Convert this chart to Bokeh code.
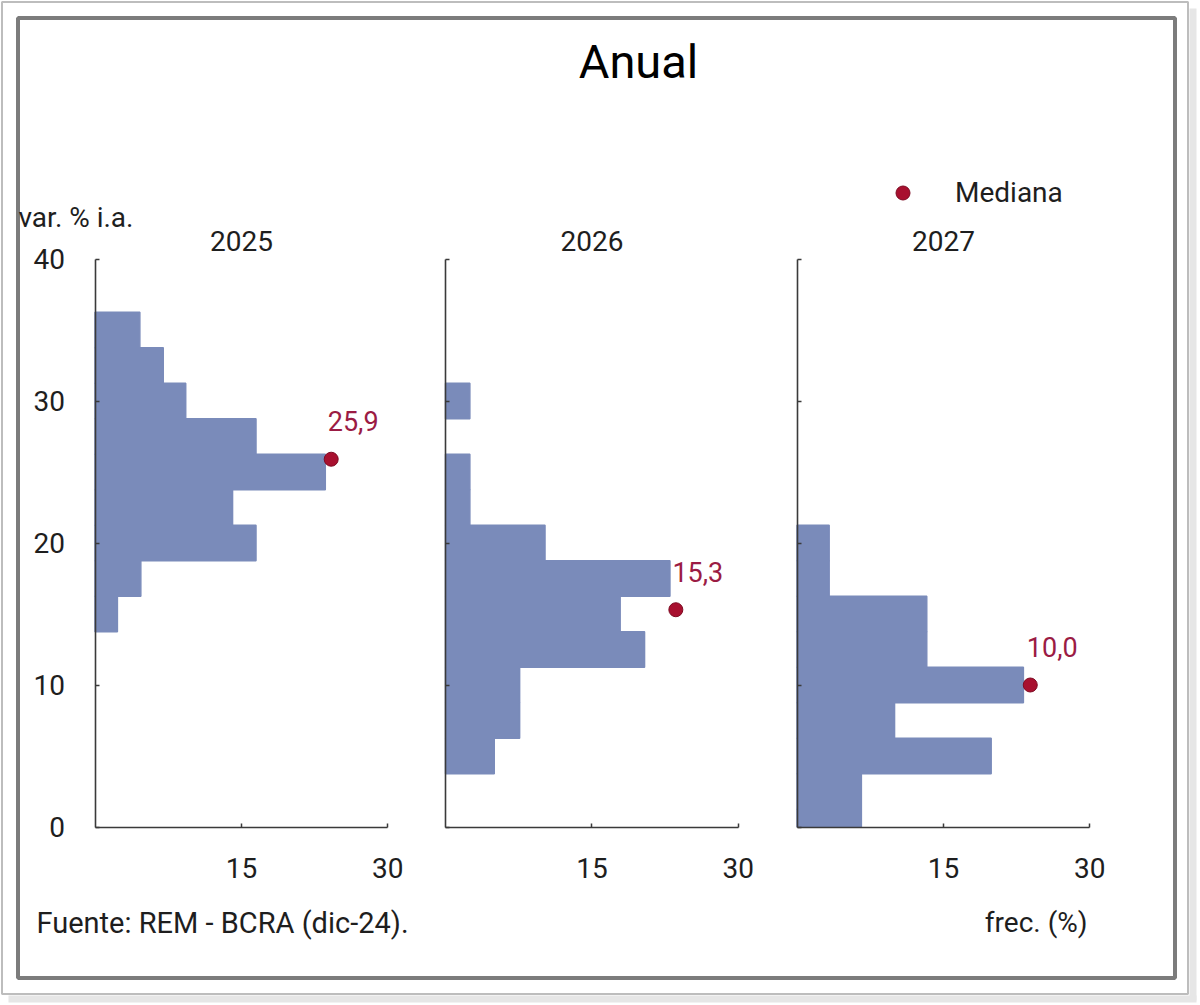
import numpy as np
from bokeh.plotting import figure
from bokeh.models import (Range1d, LinearAxis, FixedTicker, Label, Legend,
                          LegendItem, ColumnDataSource)
from bokeh.core.properties import value
from bokeh.embed import file_html
from bokeh.resources import INLINE

# ---------------- data ----------------
years = ["2025", "2026", "2027"]
bins_2025 = [15.0, 17.5, 20.0, 22.5, 25.0, 27.5, 30.0, 32.5, 35.0]
freq_2025 = [2.3, 4.7, 16.5, 14.1, 23.6, 16.5, 9.3, 7.0, 4.6]
bins_2026 = [5.0, 7.5, 10.0, 12.5, 15.0, 17.5, 20.0, 22.5, 25.0, 27.5, 30.0]
freq_2026 = [5.0, 7.6, 7.6, 20.4, 17.9, 23.0, 10.2, 2.5, 2.5, 0.0, 2.5]
bins_2027 = [0.0, 2.5, 5.0, 7.5, 10.0, 12.5, 15.0, 17.5, 20.0]
freq_2027 = [6.6, 6.6, 19.9, 10.0, 23.2, 13.3, 13.3, 3.3, 3.3]
median_value = [25.9, 15.3, 10.0]
median_label = ["25,9", "15,3", "10,0"]
median_pos_x = [24.2, 23.6, 23.9]
bin_width = 2.5
y_ticks = [0, 10, 20, 30, 40]
x_ticks = [15, 30]
y_lim = (0, 40)
x_lim = (0, 30)

bins_all = [bins_2025, bins_2026, bins_2027]
freq_all = [freq_2025, freq_2026, freq_2027]

# ---------------- layout / style ----------------
W, H = 1200, 1005
panel_x0 = [94.5, 445.0, 796.5]      # pixel where frequency 0 sits
px_per_x = 9.76
y0_px = 826.5                        # pixel where 0 % sits
px_per_y = 14.2
FONT = "Roboto"
FS = "28px"
BAR = "#7a8bba"
MED = "#a8102f"
MED_TXT = "#9b1b44"
TXT = "#1e1e1e"

p = figure(width=W, height=H, x_range=Range1d(0, W), y_range=Range1d(H, 0),
           output_backend="svg", toolbar_location=None, title=None,
           x_axis_location=None, y_axis_location=None, min_border=0,
           outline_line_color=None, background_fill_color="white",
           border_fill_color="white")
p.xgrid.visible = False
p.ygrid.visible = False

p.extra_y_ranges = {"val": Range1d(-(H - y0_px) / px_per_y, y0_px / px_per_y)}
xr_names = []
for k, x0 in enumerate(panel_x0):
    name = f"p{k}"
    p.extra_x_ranges[name] = Range1d(-x0 / px_per_x, (W - x0) / px_per_x)
    xr_names.append(name)

# ---------------- frame decoration ----------------
p.quad(left=[1189], right=[1196], top=[8], bottom=[1000], fill_color="#e6e6e6", line_color=None)
p.quad(left=[8], right=[1196], top=[995], bottom=[1002], fill_color="#e6e6e6", line_color=None)
p.quad(left=[1.5], right=[1187.5], top=[1.5], bottom=[993.5], fill_color="white",
       line_color="#bdbdbd", line_width=2)
p.quad(left=[17.5], right=[1174.5], top=[17.5], bottom=[977.5], fill_color="white",
       line_color="#7c7c7c", line_width=4)

# ---------------- panels ----------------
med_renderer = None
for k in range(3):
    xr = xr_names[k]
    c = np.array(bins_all[k])
    f = np.array(freq_all[k])
    keep = f > 0
    src = ColumnDataSource(dict(
        right=f[keep],
        bottom=np.clip(c[keep] - bin_width / 2, y_lim[0], y_lim[1]),
        top=np.clip(c[keep] + bin_width / 2, y_lim[0], y_lim[1]),
    ))
    p.quad(left=0, right="right", bottom="bottom", top="top", source=src,
           x_range_name=xr, y_range_name="val",
           fill_color=BAR, line_color=BAR, line_width=1.4)

    msrc = ColumnDataSource(dict(x=[median_pos_x[k]], y=[median_value[k]],
                                 t=[median_label[k]]))
    r = p.scatter(x="x", y="y", source=msrc, x_range_name=xr, y_range_name="val",
                  size=14, fill_color=MED, line_color="#7e0a22", line_width=1)
    if med_renderer is None:
        med_renderer = r
    p.text(x="x", y="y", text="t", source=msrc, x_range_name=xr, y_range_name="val",
           x_offset=22, y_offset=-38, text_align="center", text_baseline="middle",
           text_font=value(FONT), text_font_size="27px", text_color=MED_TXT)

    xa = LinearAxis(x_range_name=xr, y_range_name="val", fixed_location=0,
                    bounds=x_lim, ticker=FixedTicker(ticks=x_ticks))
    ya = LinearAxis(x_range_name=xr, y_range_name="val", fixed_location=0,
                    bounds=y_lim, ticker=FixedTicker(ticks=y_ticks))
    for ax in (xa, ya):
        ax.axis_line_color = "#3a3a3a"
        ax.axis_line_width = 1.6
        ax.major_tick_in = 4
        ax.major_tick_out = 0
        ax.major_tick_line_color = "#3a3a3a"
        ax.major_tick_line_width = 1.5
        ax.minor_tick_line_color = None
        ax.major_label_text_font = FONT
        ax.major_label_text_font_size = FS
        ax.major_label_text_color = TXT
    xa.major_label_standoff = 31
    ya.major_label_standoff = 30
    if k > 0:
        ya.major_label_text_color = None
    p.add_layout(xa, "below")
    p.add_layout(ya, "left")

    p.add_layout(Label(x=15, x_range_name=xr, y=240, text=years[k],
                       text_align="center", text_baseline="middle",
                       text_font=FONT, text_font_size=FS, text_color=TXT))

# ---------------- texts ----------------
p.add_layout(Label(x=638, y=61, text="Anual", text_align="center", text_baseline="middle",
                   text_font=FONT, text_font_size="47px", text_color="#000000"))
p.add_layout(Label(x=18, y=217, text="var. % i.a.", text_align="left", text_baseline="middle",
                   text_font=FONT, text_font_size=FS, text_color=TXT))
p.add_layout(Label(x=36, y=922, text="Fuente: REM - BCRA (dic-24).", text_align="left",
                   text_baseline="middle", text_font=FONT, text_font_size="29px",
                   text_color=TXT))
p.add_layout(Label(x=1087, y=922, text="frec. (%)", text_align="right",
                   text_baseline="middle", text_font=FONT, text_font_size=FS,
                   text_color=TXT))

legend = Legend(items=[LegendItem(label="Mediana", renderers=[med_renderer])],
                location=(885, 795), padding=0, margin=0, spacing=0,
                glyph_width=35, glyph_height=35, label_standoff=35,
                border_line_color=None, background_fill_alpha=0,
                label_text_font=FONT, label_text_font_size=FS,
                label_text_color=TXT)
p.add_layout(legend)

open("out.html", "w").write(file_html(p, INLINE))
